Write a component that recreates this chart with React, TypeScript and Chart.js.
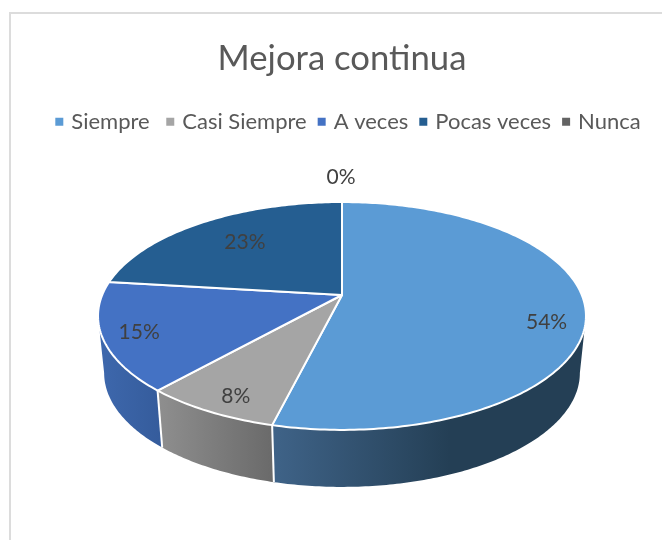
import React, { useEffect, useRef } from "react";
import { Chart, registerables } from "chart.js";

Chart.register(...registerables);

const categories = ["Siempre ", "Casi Siempre", "A veces", "Pocas veces", "Nunca"];
const counts = [7, 1, 2, 3, 0];
const topColors = ["#5b9bd5", "#a5a5a5", "#4472c4", "#255e91", "#636363"];
const wallStops = [
  ["#3f6388", "#243f55"],
  ["#8e8e8e", "#6a6a6a"],
  ["#3e68ad", "#355c9c"],
  ["#1d4a73", "#1d4a73"],
  ["#4f4f4f", "#4f4f4f"],
];
const wallRanges = [
  [273, 450],
  [160, 273],
  [98, 160],
  [98, 342],
  [98, 342],
];

const labelNudges = [
  [23, 17],
  [-11, 18],
  [-26, 6],
  [11, 3],
  [-1, -45],
];

const CX = 342;
const A = 239.8;
const K = -0.184;
const YA = 55.8;
const YB = 295;
const DEPTH = 57;
const WALL_SCALE = 0.975;
const WALL_FROM = (100.6 * Math.PI) / 180;
const WALL_TO = (259.4 * Math.PI) / 180;
const SANS = "Lato, Carlito, sans-serif";

const project = (theta: number, f = 1) => {
  const u = Math.sin(theta) * f;
  const v = -Math.cos(theta) * f;
  const d = 1 + K * v;
  return { x: CX + (A * u) / d, y: (YA * v + YB) / d };
};
const lower = (p: { x: number; y: number }) => ({
  x: CX + (p.x - CX) * WALL_SCALE,
  y: p.y + DEPTH,
});

const pie3d = {
  id: "pie3d",
  beforeDraw(chart: any) {
    // the title sits left of the legend's centre
    if (chart.titleBlock && !chart.$titleMoved) {
      chart.titleBlock.left -= 7.5;
      chart.titleBlock.right -= 7.5;
      chart.$titleMoved = true;
    }
  },
  beforeDatasetDraw(chart: any) {
    const { ctx } = chart;
    const arcs = chart.getDatasetMeta(0).data;
    const total = counts.reduce((a, b) => a + b, 0);
    const spans = arcs.map((a: any) => [a.startAngle + Math.PI / 2, a.endAngle + Math.PI / 2]);

    // side wall: one polygon per slice over the visible front part
    spans.forEach(([s0, e0]: number[], i: number) => {
      const s = Math.max(s0, WALL_FROM);
      const e = Math.min(e0, WALL_TO);
      if (e - s <= 0) return;
      const [x0, x1] = wallRanges[i];
      const g = ctx.createLinearGradient(x0, 0, x1, 0);
      g.addColorStop(0, wallStops[i][0]);
      g.addColorStop(1, wallStops[i][1]);
      const n = Math.max(12, Math.ceil((e - s) * 80));
      const pts = [];
      for (let k = 0; k <= n; k++) pts.push(project(s + ((e - s) * k) / n));
      ctx.beginPath();
      pts.forEach((p: any, k: number) => (k ? ctx.lineTo(p.x, p.y) : ctx.moveTo(p.x, p.y)));
      [...pts].reverse().forEach((p: any) => {
        const l = lower(p);
        ctx.lineTo(l.x, l.y);
      });
      ctx.closePath();
      ctx.fillStyle = g;
      ctx.fill();
    });

    // separators on the wall
    ctx.strokeStyle = "#ffffff";
    ctx.lineWidth = 2;
    spans.forEach(([s]: number[]) => {
      const a = project(s);
      if (a.y < 340) return;
      const b = lower(a);
      ctx.beginPath();
      ctx.moveTo(a.x, a.y);
      ctx.lineTo(b.x, b.y);
      ctx.stroke();
    });

    // top surface
    const apex = project(0, 0);
    spans.forEach(([s, e]: number[], i: number) => {
      if (e - s <= 0) return;
      ctx.beginPath();
      ctx.moveTo(apex.x, apex.y);
      const n = Math.max(8, Math.ceil((e - s) * 60));
      for (let k = 0; k <= n; k++) {
        const p = project(s + ((e - s) * k) / n);
        ctx.lineTo(p.x, p.y);
      }
      ctx.closePath();
      ctx.fillStyle = topColors[i];
      ctx.fill();
      ctx.strokeStyle = "#ffffff";
      ctx.lineWidth = 2;
      ctx.lineJoin = "round";
      ctx.stroke();
    });

    // value labels
    ctx.font = `21px ${SANS}`;
    ctx.fillStyle = "#404040";
    ctx.textAlign = "center";
    ctx.textBaseline = "middle";
    spans.forEach(([s, e]: number[], i: number) => {
      const p = project((s + e) / 2, 0.75);
      const text = `${Math.round((counts[i] / total) * 100)}%`;
      ctx.fillText(text, p.x + labelNudges[i][0], p.y + labelNudges[i][1]);
    });
    return false;
  },
};

export default function App() {
  const ref = useRef<HTMLCanvasElement | null>(null);
  useEffect(() => {
    if (!ref.current) return;
    const chart = new Chart(ref.current, {
      type: "pie",
      data: {
        labels: categories,
        datasets: [{ data: counts, backgroundColor: topColors, borderWidth: 0 }],
      },
      options: {
        responsive: false,
        animation: false,
        layout: { padding: { left: 37, top: 38, right: 0, bottom: 0 } },
        plugins: {
          tooltip: { enabled: false },
          title: {
            display: true,
            text: "Mejora continua",
            color: "#595959",
            font: { family: SANS, size: 34.7, weight: "normal" },
            padding: { top: 0, bottom: 17 },
          },
          legend: {
            position: "top",
            labels: {
              color: "#595959",
              font: { family: SANS, size: 22 },
              boxWidth: 2,
              boxHeight: 2,
              padding: 14,
              generateLabels: () =>
                categories.map((text, index) => ({
                  text,
                  index,
                  fillStyle: topColors[index],
                  strokeStyle: topColors[index],
                  fontColor: "#595959",
                  lineWidth: 6,
                  hidden: false,
                })),
            },
          },
        },
      },
      plugins: [pie3d],
    } as any);
    return () => chart.destroy();
  }, []);
  return (
    <div style={{ position: "absolute", left: 0, top: 0, width: 662, height: 540, background: "#fff" }}>
      <canvas ref={ref} width={662} height={540} style={{ display: "block" }} />
      <div
        style={{
          position: "absolute",
          left: 9,
          top: 12,
          right: 0,
          bottom: 0,
          borderTop: "2px solid #dcdcdc",
          borderLeft: "2px solid #dcdcdc",
        }}
      />
    </div>
  );
}
